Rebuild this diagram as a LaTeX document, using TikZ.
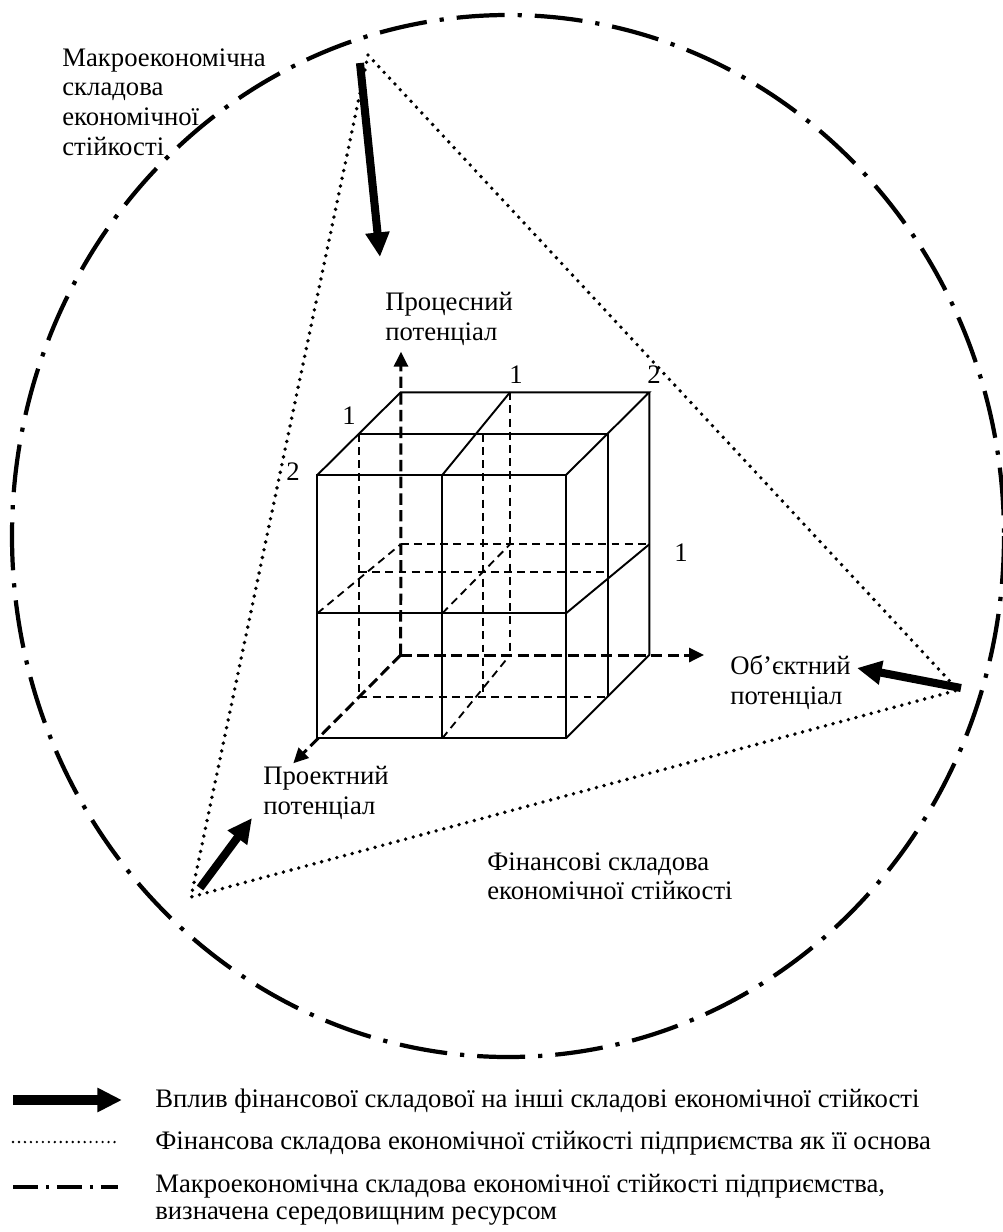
\documentclass[tikz,border=0pt]{standalone}
\usepackage{fontspec}
\setmainfont{Liberation Serif}
\usetikzlibrary{arrows.meta}

\begin{document}
\begin{tikzpicture}[x=0.02cm, y=-0.02cm,
        >={Triangle[length=14pt,width=13pt]},
        rib/.style={line width=1.1pt},
        hid/.style={line width=1.05pt,dash pattern=on 4.5pt off 3pt},
        ax/.style={line width=1.7pt,dash pattern=on 6.5pt off 3pt,-{Triangle[length=8.5pt,width=8pt]}},
        impact/.style={line width=4.6pt,->},
        finline/.style={line width=2.2pt,line cap=round,dash pattern=on 0pt off 4.5pt},
        envline/.style={line width=2.4pt,dash pattern=on 27.3pt off 7.4pt on 2.4pt off 7.4pt},
        lbl/.style={font=\fontsize{15.2}{17}\selectfont,align=left,anchor=north west,inner sep=0pt},
        num/.style={font=\fontsize{15.2}{17}\selectfont,inner sep=0pt}]
        \useasboundingbox (0,0) rectangle (1002,1232);
        \draw[envline] (508,536) ellipse [x radius=496, y radius=521];
        \coordinate (apex) at (368,55);
        \coordinate (rgt) at (958,690);
        \coordinate (lft) at (191,897);
        \draw[finline] (apex) -- (rgt) -- (lft) -- cycle;
        \coordinate (s1) at (360,63);
        \coordinate (e1) at (380,257);
        \coordinate (s2) at (961,688);
        \coordinate (e2) at (857,668);
        \coordinate (s3) at (200,888);
        \coordinate (e3) at (252,818);
        \draw[impact] (s1) to (e1);
        \draw[impact] (s2) to (e2);
        \draw[impact] (s3) to (e3);
        \draw[rib] (317.3,475) rectangle (566,738.3);
        \draw[rib] (442.3,475) -- (442.3,738.3);
        \draw[rib] (317.3,613.3) -- (566,613.3);
        \draw[rib] (317.3,475) -- (400.7,392.3) -- (649.3,392.3) -- (566,475);
        \draw[rib] (442.3,475) -- (510,392.3);
        \draw[rib] (359,433.7) -- (607.7,433.7) -- (607.7,696.7);
        \draw[rib] (649.3,392.3) -- (649.3,655) -- (566,738.3);
        \draw[rib] (566,613.3) -- (649.3,544.3);
        \draw[hid] (359,433.7) -- (359,696.7) -- (607.7,696.7);
        \draw[hid] (483.3,433.7) -- (483.3,696.7);
        \draw[hid] (359,572.3) -- (607.7,572.3);
        \draw[hid] (510,392.3) -- (510,655);
        \draw[hid] (400.7,544.3) -- (649.3,544.3);
        \draw[hid] (317.3,613.3) -- (400.7,544.3);
        \draw[hid] (442.3,613.3) -- (510,544.3);
        \draw[hid] (442.3,738.3) -- (510,655);
        \coordinate (o) at (400.7,655);
        \coordinate (pz) at (401,351.7);
        \coordinate (px) at (704,655);
        \coordinate (py) at (293.3,763.3);
        \draw[ax] (o) to (pz);
        \draw[ax] (o) to (px);
        \draw[ax] (o) to (py);
        \node[num] at (349,416) (n1a) {1};
        \node[num] at (293,472) (n2a) {2};
        \node[num] at (516,375) (n1b) {1};
        \node[num] at (654,375) (n2b) {2};
        \node[num] at (681,553) (n1c) {1};
        \node[lbl] at (62,48) (macro) {Макроекономічна\\складова\\економічної\\стійкості};
        \node[lbl] at (385,292) (proc) {Процесний\\потенціал};
        \node[lbl] at (730,655) (obj) {Об’єктний\\потенціал};
        \node[lbl] at (263,766) (proj) {Проектний\\потенціал};
        \node[lbl] at (487,852) (fin) {Фінансові складова\\економічної стійкості};
        \coordinate (la1) at (13,1100);
        \coordinate (lb1) at (122,1100);
        \coordinate (la2) at (13,1142);
        \coordinate (lb2) at (118,1142);
        \coordinate (la3) at (13,1187);
        \coordinate (lb3) at (118,1187);
        \draw[line width=5.7pt,->] (la1) to (lb1);
        \draw[line width=1.5pt,line cap=round,dash pattern=on 0pt off 3.4pt] (la2) to (lb2);
        \draw[line width=2.8pt,dash pattern=on 14.2pt off 4.55pt on 1.7pt off 4.55pt] (la3) to (lb3);
        \node[lbl] at (155,1089) (lg1) {Вплив фінансової складової на інші складові економічної стійкості};
        \node[lbl] at (155,1131) (lg2) {Фінансова складова економічної стійкості підприємства як її основа};
        \node[lbl,font=\fontsize{15.2}{15.4}\selectfont] at (155,1174) (lg3) {Макроекономічна складова економічної стійкості підприємства,\\визначена середовищним ресурсом};
\end{tikzpicture}
\end{document}
